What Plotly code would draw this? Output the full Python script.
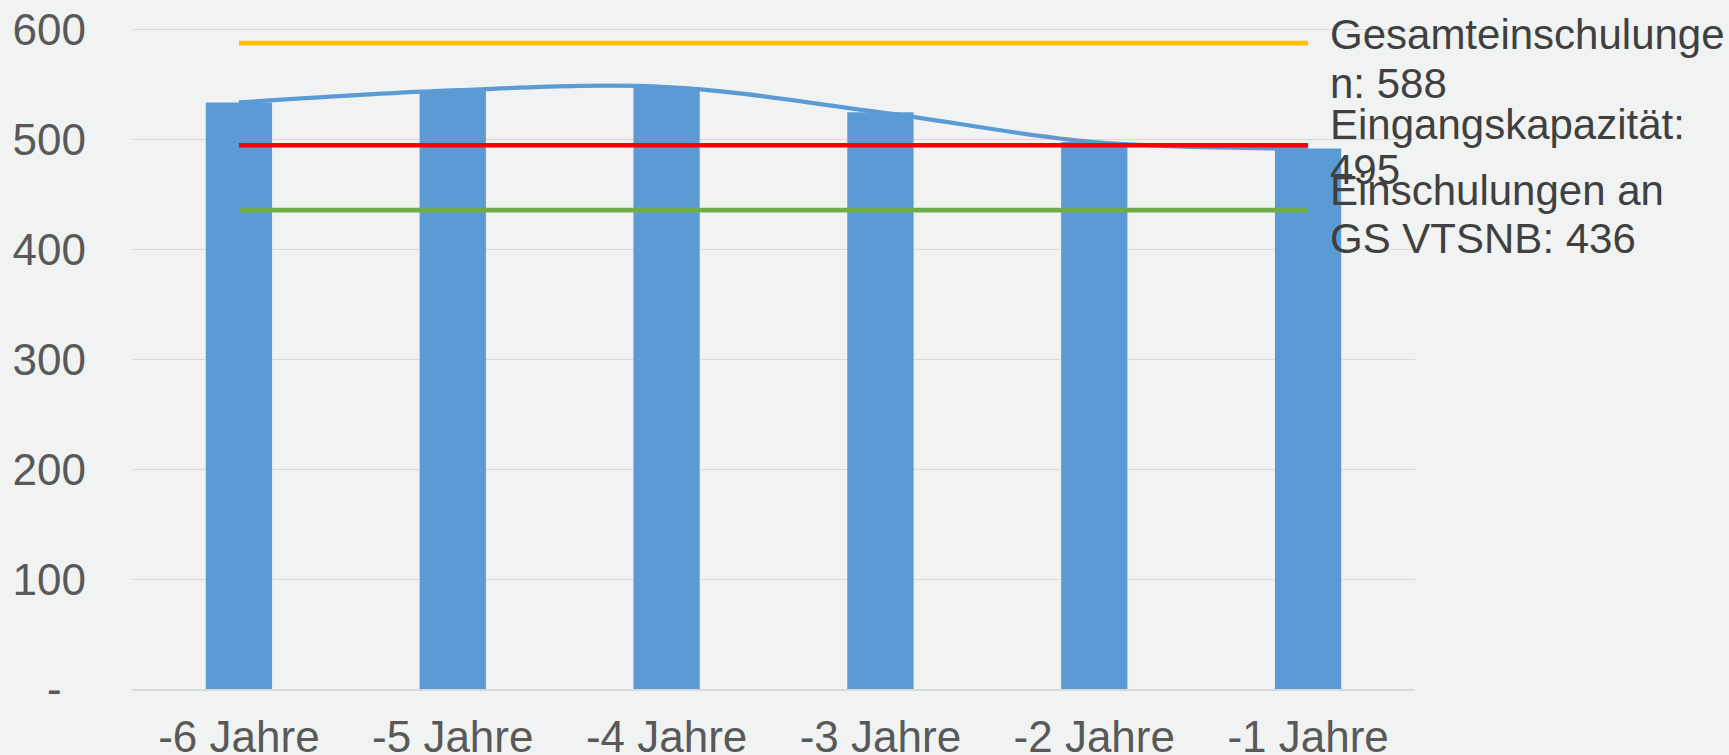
import plotly.graph_objects as go

categories = ["-6 Jahre", "-5 Jahre", "-4 Jahre", "-3 Jahre", "-2 Jahre", "-1 Jahre"]
einschulungen = [534, 545, 548, 525, 498, 492]

ref_names = ["Gesamteinschulungen", "Eingangskapazität", "Einschulungen an GS VTSNB"]
ref_values = [588, 495, 436]
ref_colors = ["#FFC000", "#FF0000", "#70AD47"]
# label lines as displayed (wrapped)
ref_label_lines = [
    ["Gesamteinschulunge", "n: 588"],
    ["Eingangskapazität:", "495"],
    ["Einschulungen an", "GS VTSNB: 436"],
]

y_tickvals = [0, 100, 200, 300, 400, 500, 600]
y_ticktext = ["-\u2007", "100", "200", "300", "400", "500", "600"]

FONT = "Liberation Sans, Arial, sans-serif"
BG = "#F1F3F2"
BLUE = "#5B9BD5"

fig = go.Figure()

fig.add_trace(go.Bar(
    x=categories, y=einschulungen, width=0.31,
    marker=dict(color=BLUE, line=dict(width=0)),
    showlegend=False, hoverinfo="skip",
))

fig.add_trace(go.Scatter(
    x=categories, y=einschulungen, mode="lines",
    line=dict(color=BLUE, width=4.2, shape="spline", smoothing=1.0),
    showlegend=False, hoverinfo="skip",
))

for name, val, col in zip(ref_names, ref_values, ref_colors):
    fig.add_trace(go.Scatter(
        x=categories, y=[val] * len(categories), mode="lines", name=name,
        line=dict(color=col, width=4.6),
        showlegend=False, hoverinfo="skip",
    ))

# labels to the right of the reference lines
shifts = [(8.5, -40.5), (20.6, -24.4), (19.4, -28.6)]
annotations = []
for val, lines, (s1, s2) in zip(ref_values, ref_label_lines, shifts):
    for txt, ys in zip(lines, (s1, s2)):
        annotations.append(dict(
            x=categories[-1], y=val, xref="x", yref="y",
            text=txt, showarrow=False, xanchor="left", yanchor="middle",
            xshift=20, yshift=ys,
            font=dict(family=FONT, size=42, color="#404040"),
        ))

fig.update_layout(
    width=1729, height=755,
    margin=dict(l=132, r=314, t=25, b=66, pad=0, autoexpand=False),
    paper_bgcolor=BG, plot_bgcolor=BG,
    annotations=annotations,
    xaxis=dict(
        type="category", range=[-0.5, 5.5], automargin=False,
        showgrid=False, showline=True, linecolor="#D9D9D9", linewidth=2,
        ticks="", tickfont=dict(family=FONT, size=44, color="#595959"),
        ticklabelstandoff=8,
    ),
    yaxis=dict(
        range=[0, 604.5], tickvals=y_tickvals, ticktext=y_ticktext,
        automargin=False,
        showgrid=True, gridcolor="#D9D9D9", gridwidth=1.4,
        zeroline=False, showline=False, ticks="",
        tickfont=dict(family=FONT, size=44, color="#595959"),
        ticklabelstandoff=45,
    ),
)

fig.write_html(
    "out.html",
    config={"displayModeBar": False},
    post_script="document.body.style.margin='0';document.body.style.overflow='hidden';",
)
